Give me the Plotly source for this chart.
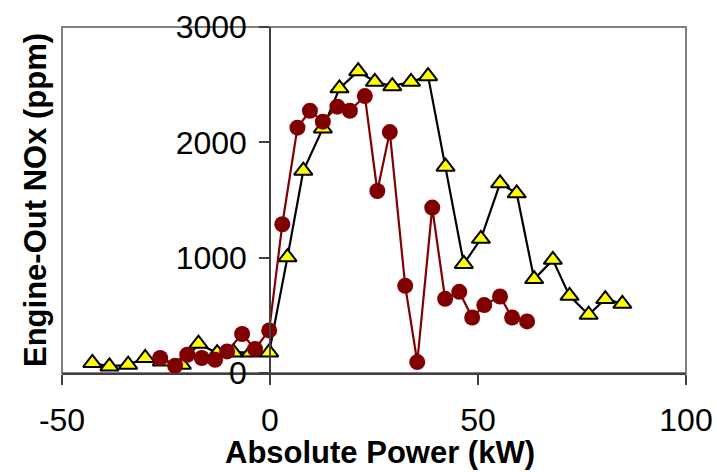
import plotly.graph_objects as go

# Yellow triangle series
tri_x = [-42.7, -38.6, -34.1, -30.0, -26.0, -21.2, -17.2, -12.7, -8.8, -4.6, -0.2,
         4.2, 8.0, 12.7, 16.7, 21.2, 25.2, 29.4, 33.9, 38.0, 42.2, 46.6, 50.7,
         55.3, 59.3, 63.5, 68.0, 72.0, 76.6, 80.6, 84.7]
tri_y = [87, 57, 72, 130, 100, 72, 254, 173, 178, 178, 178,
         1004, 1754, 2121, 2468, 2617, 2525, 2487, 2525, 2574, 1789, 946, 1163,
         1645, 1558, 814, 981, 669, 505, 641, 600]

# Dark red circle series
cir_x = [-26.4, -22.8, -19.9, -16.4, -13.2, -10.3, -6.7, -3.6, -0.2, 2.96,
         6.6, 9.6, 12.7, 16.2, 19.2, 22.8, 25.8, 28.8, 32.5, 35.4, 39.0,
         42.1, 45.5, 48.6, 51.5, 55.3, 58.2, 61.8]
cir_y = [130, 63, 158, 130, 115, 187, 338, 208, 369, 1290,
         2127, 2274, 2179, 2309, 2274, 2401, 1578, 2089, 756, 95, 1434,
         643, 704, 481, 589, 663, 481, 447]

x_ticks = [-50, 0, 50, 100]
y_ticks = [0, 1000, 2000, 3000]

FONT = "Liberation Sans, Arial, sans-serif"

fig = go.Figure()
fig.add_trace(go.Scatter(
    x=tri_x, y=tri_y, mode="lines+markers",
    line=dict(color="black", width=2.2),
    marker=dict(symbol="triangle-up", size=16, color="#FFFF00",
                line=dict(color="black", width=2)),
    showlegend=False, cliponaxis=False))
fig.add_trace(go.Scatter(
    x=cir_x, y=cir_y, mode="lines+markers",
    line=dict(color="#800000", width=2.2),
    marker=dict(symbol="circle", size=16, color="#800000",
                line=dict(width=0)),
    showlegend=False, cliponaxis=False))

fig.update_layout(
    width=717, height=472,
    margin=dict(l=62, r=31, t=27, b=99, autoexpand=False),
    plot_bgcolor="white", paper_bgcolor="white",
    font=dict(family=FONT, color="black"),
    xaxis=dict(range=[-50, 100], tickvals=x_ticks, ticktext=[str(v) for v in x_ticks],
               showgrid=False, zeroline=False, showline=True, linecolor="#404040",
               linewidth=2, ticks="outside", ticklen=10, tickwidth=1.5,
               tickcolor="#404040", tickfont=dict(size=32, family=FONT, color="black"),
               ticklabelstandoff=8, automargin=False),
    yaxis=dict(range=[0, 3000], tickvals=y_ticks, ticktext=[str(v) for v in y_ticks],
               anchor="free", position=1/3,
               showgrid=False, zeroline=False, showline=True, linecolor="#404040",
               linewidth=1.5, ticks="outside", ticklen=10, tickwidth=1.5,
               tickcolor="#404040", tickfont=dict(size=32, family=FONT, color="black"),
               ticklabelstandoff=6, automargin=False),
    shapes=[dict(type="rect", xref="paper", yref="paper", x0=0, x1=1, y0=0, y1=1,
                 line=dict(color="#808080", width=2), layer="below")],
    annotations=[
        dict(text="<b>Absolute Power (kW)</b>", xref="paper", yref="paper",
             x=0.51, xanchor="center", y=0, yshift=-99, yanchor="bottom",
             showarrow=False, font=dict(size=31, family=FONT, color="black")),
        dict(text="<b>Engine-Out NOx (ppm)</b>", xref="paper", yref="paper",
             x=0, xshift=-27, xanchor="center", y=0.5, yanchor="middle",
             textangle=-90, showarrow=False,
             font=dict(size=31, family=FONT, color="black")),
    ],
)

fig.write_html("out.html")
